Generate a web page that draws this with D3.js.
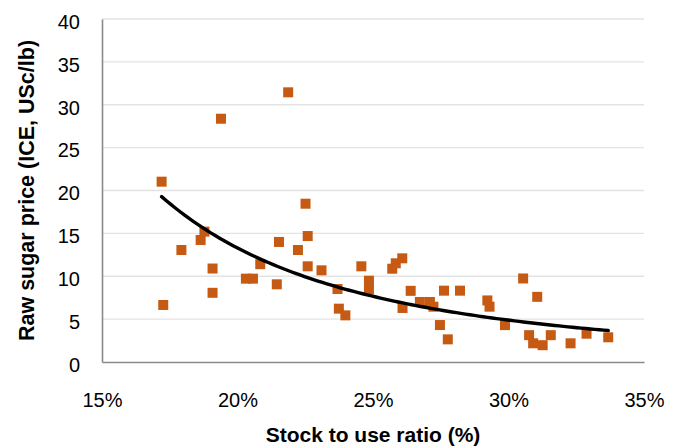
<!DOCTYPE html>
<html>
<head>
<meta charset="utf-8">
<script src="https://cdn.jsdelivr.net/npm/d3@7"></script>
<style>
  html, body { margin: 0; padding: 0; background: #fff; }
  svg { display: block; }
  text { font-family: "Liberation Sans", Arial, Helvetica, sans-serif; fill: #000; }
</style>
</head>
<body>
<svg id="chart" width="679" height="446"></svg>
<script>
// Stock to use ratio (%) and raw sugar price (USc/lb)
const stockToUse = [17.20, 17.26, 17.93, 18.64, 18.78, 19.08, 19.08, 19.39, 20.31, 20.57,
  20.84, 21.45, 21.53, 21.87, 22.23, 22.51, 22.59, 22.59, 23.10, 23.69,
  23.74, 23.98, 24.57, 24.85, 24.85, 25.71, 25.84, 26.08, 26.09, 26.39,
  26.73, 27.10, 27.23, 27.47, 27.62, 27.76, 28.21, 29.22, 29.30, 29.87,
  30.54, 30.76, 30.91, 31.06, 31.26, 31.56, 32.29, 32.88, 33.68];
const sugarPrice = [21.03, 6.65, 13.06, 14.23, 15.20, 10.90, 8.07, 28.37, 9.72, 9.72,
  11.41, 9.06, 14.00, 31.45, 13.06, 18.46, 14.69, 11.16, 10.69, 8.51,
  6.22, 5.44, 11.16, 9.48, 8.47, 10.88, 11.51, 12.09, 6.30, 8.30,
  7.00, 7.00, 6.45, 4.31, 8.32, 2.64, 8.32, 7.18, 6.45, 4.30,
  9.74, 3.13, 2.18, 7.60, 1.96, 3.13, 2.18, 3.30, 2.88];
const xTicks = [15, 20, 25, 30, 35];
const yTicks = [0, 5, 10, 15, 20, 25, 30, 35, 40];
const xTitle = "Stock to use ratio (%)";
const yTitle = "Raw sugar price (ICE, USc/lb)";

const svg = d3.select("#chart");
const x = d3.scaleLinear().domain([15, 35]).range([102, 644]);
const y = d3.scaleLinear().domain([0, 40]).range([362, 19]);

// gridlines
svg.append("g").selectAll("line").data(yTicks.filter(d => d > 0)).join("line")
  .attr("x1", x(15)).attr("x2", x(35))
  .attr("y1", d => y(d)).attr("y2", d => y(d))
  .attr("stroke", "#e3e3e3").attr("stroke-width", 1.3);

// axes (lines only, labels drawn by axis generators)
const xAxis = d3.axisBottom(x).tickValues(xTicks).tickSize(0).tickPadding(0)
  .tickFormat(d => d + "%");
const gx = svg.append("g").attr("transform", `translate(0,${y(0)})`).call(xAxis);
gx.select(".domain").attr("stroke", "#8a8a8a").attr("stroke-width", 1.6);
gx.selectAll("text").attr("font-size", 20).attr("dy", null).attr("y", 44.5)
  .style("font-family", '"Liberation Sans", Arial, sans-serif').attr("fill", "#000");

const yAxis = d3.axisLeft(y).tickValues(yTicks).tickSize(0).tickPadding(0);
const gy = svg.append("g").attr("transform", `translate(${x(15)},0)`).call(yAxis);
gy.select(".domain").attr("stroke", "#8a8a8a").attr("stroke-width", 1.6);
gy.selectAll("text").attr("font-size", 20).attr("dy", null).attr("x", -22).attr("y", 9.3)
  .style("font-family", '"Liberation Sans", Arial, sans-serif').attr("fill", "#000");

// points
const pts = stockToUse.map((v, i) => ({ x: v, y: sugarPrice[i] }));
const ms = 10;
svg.append("g").selectAll("rect").data(pts).join("rect")
  .attr("x", d => x(d.x) - ms / 2).attr("y", d => y(d.y) - ms / 2)
  .attr("width", ms).attr("height", ms)
  .attr("fill", "#C65A12");

// power trendline fitted to the data (least squares on ln-ln)
const lx = pts.map(d => Math.log(d.x)), ly = pts.map(d => Math.log(d.y));
const mx = d3.mean(lx), my = d3.mean(ly);
const b = d3.sum(lx, (v, i) => (v - mx) * (ly[i] - my)) / d3.sum(lx, v => (v - mx) * (v - mx));
const a = Math.exp(my - b * mx);
const xmin = d3.min(stockToUse), xmax = d3.max(stockToUse);
const trend = d3.range(0, 101).map(i => {
  const xv = xmin + (xmax - xmin) * i / 100;
  return { x: xv, y: a * Math.pow(xv, b) };
});
svg.append("path").datum(trend)
  .attr("d", d3.line().x(d => x(d.x)).y(d => y(d.y)))
  .attr("fill", "none").attr("stroke", "#000").attr("stroke-width", 3.4)
  .attr("stroke-linecap", "round");

// axis titles
svg.append("text").attr("x", (x(15) + x(35)) / 2).attr("y", 441.5)
  .attr("text-anchor", "middle").attr("font-size", 21).attr("font-weight", "bold")
  .text(xTitle);
svg.append("text").attr("transform", `translate(33.5,${(y(0) + y(40)) / 2}) rotate(-90)`)
  .attr("text-anchor", "middle").attr("font-size", 21.5).attr("font-weight", "bold")
  .text(yTitle);
</script>
</body>
</html>
